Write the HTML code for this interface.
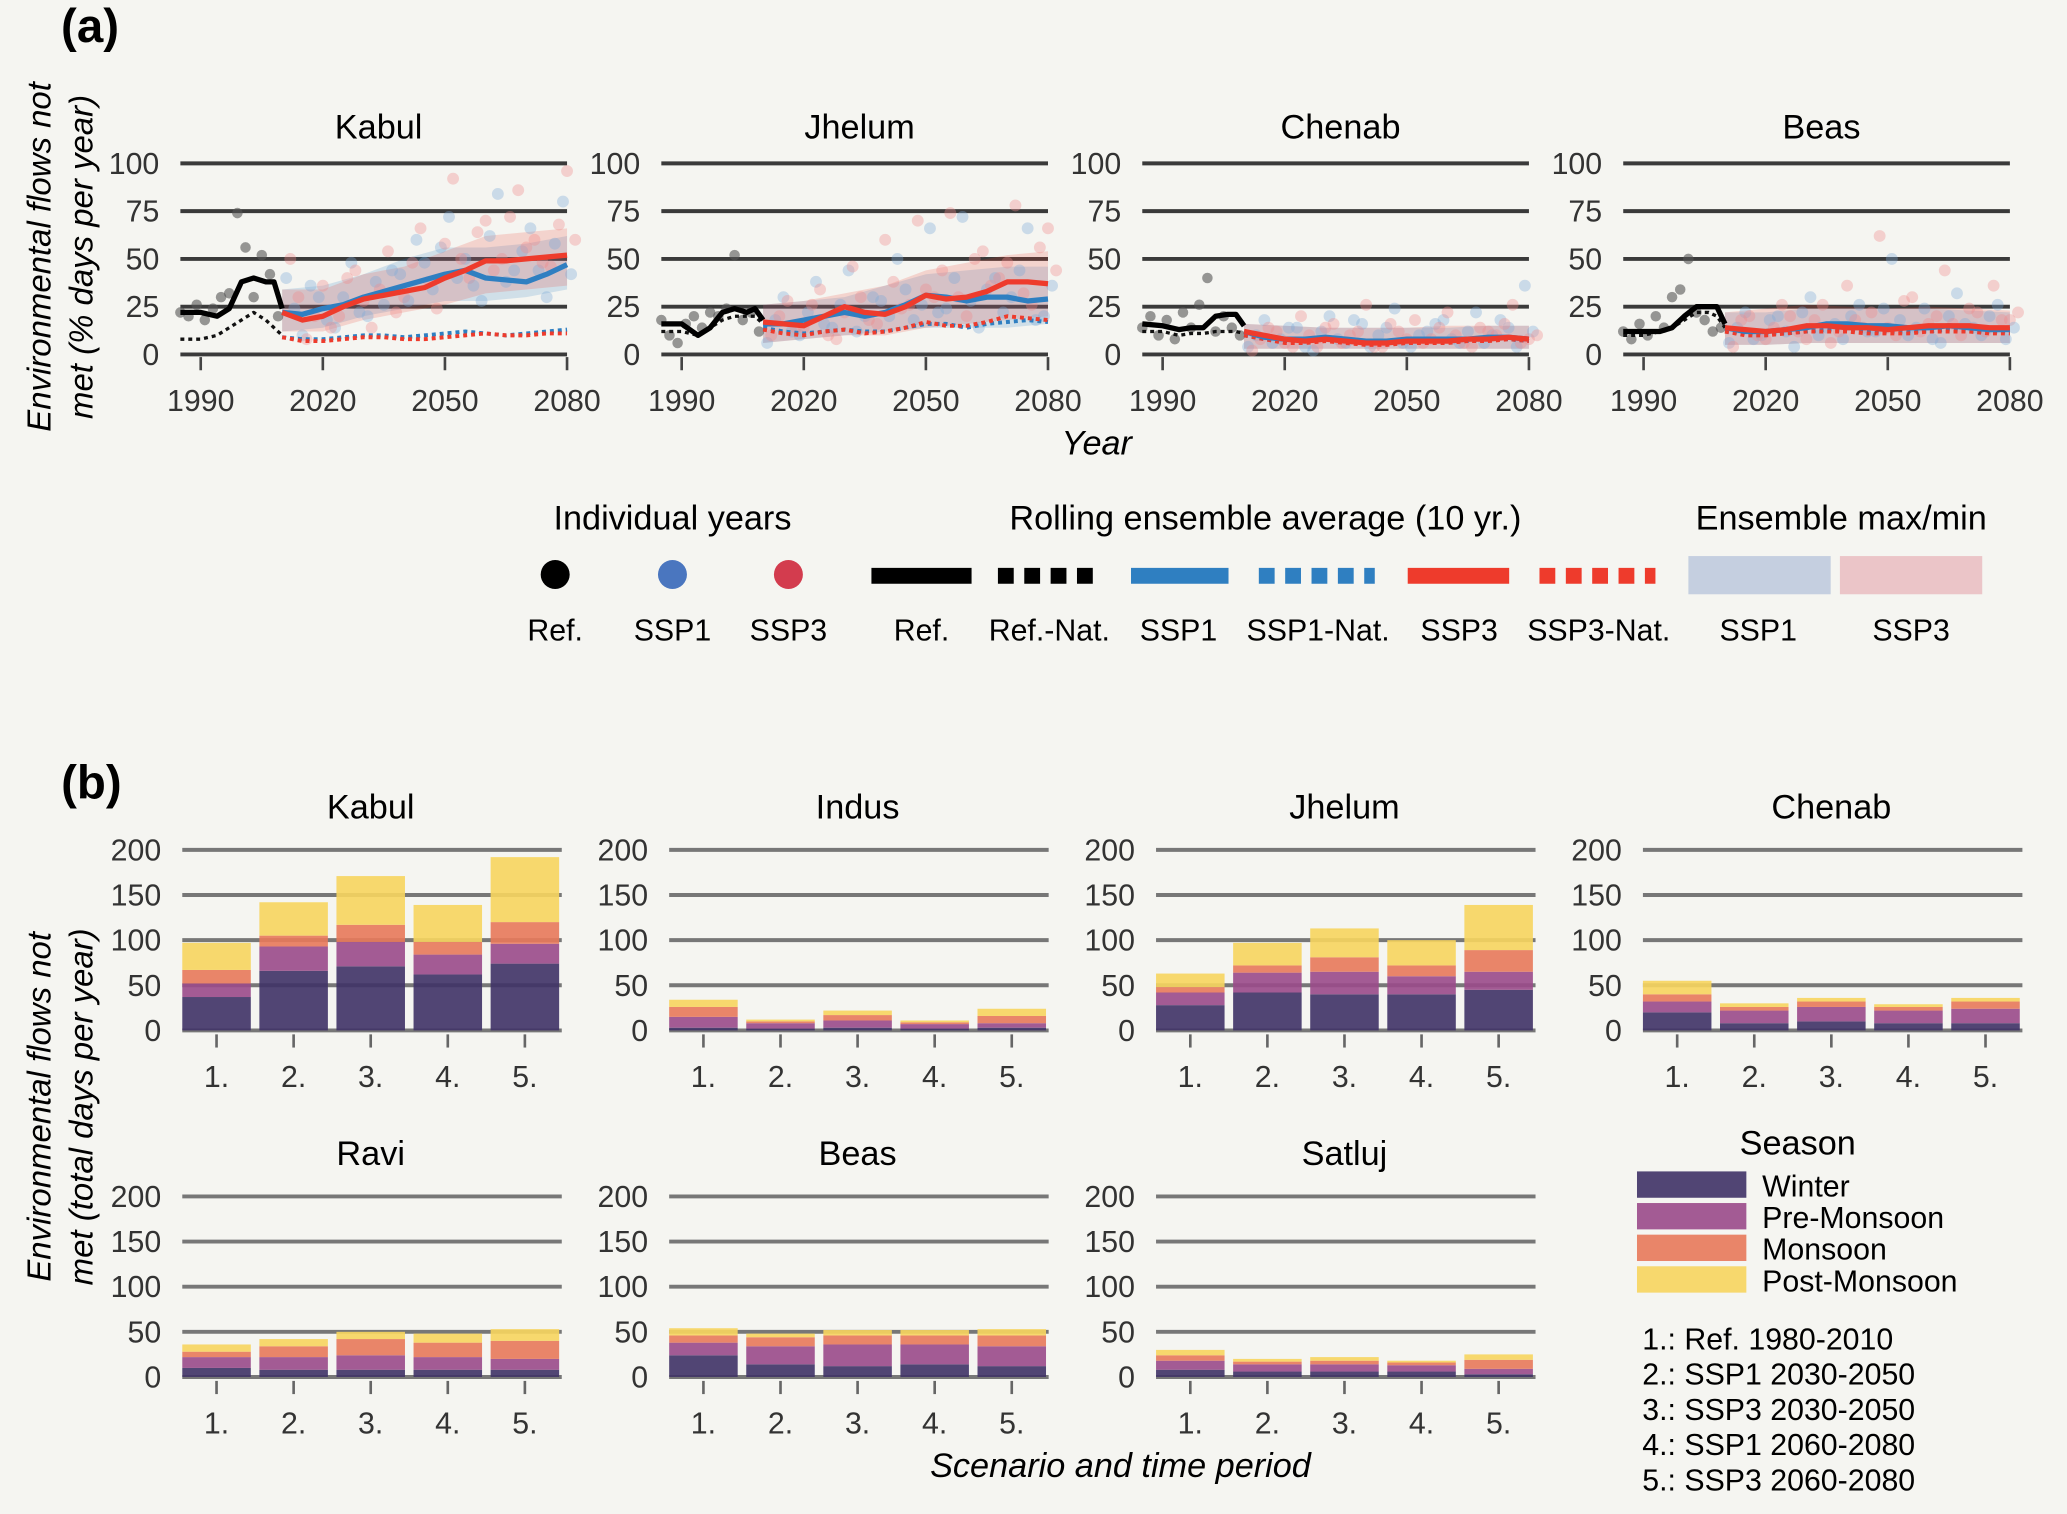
<!DOCTYPE html>
<html><head><meta charset="utf-8">
<style>
html,body{margin:0;padding:0;background:#f5f5f1;}
svg{display:block;font-family:"Liberation Sans Narrow","Liberation Sans",sans-serif;}
</style></head>
<body>
<svg id="fig" width="2067" height="1514" viewBox="0 0 1568 1149" xmlns="http://www.w3.org/2000/svg">
<rect width="1568" height="1149" fill="#f5f5f1"/>
<g id="pa"></g>
<g id="pb"></g>
</svg>
<script>
// ---------- Panel (a) data ----------
const basinsA = ["Kabul","Jhelum","Chenab","Beas"];
const refYears = [1985,1987,1989,1991,1993,1995,1997,1999,2001,2003,2005,2007,2009];
const refDots = [
 [22,20,26,18,24,30,32,74,56,30,52,42,20],
 [18,10,6,16,20,14,22,20,24,52,18,22,12],
 [14,20,10,18,8,22,14,26,40,12,20,14,10],
 [12,8,16,10,20,14,30,34,50,22,18,12,14]
];
const refLineYears = [1985,1990,1994,1997,2000,2003,2006,2008,2010];
const refLine = [
 [22,22,20,24,38,40,38,38,24],
 [16,16,10,14,22,24,22,24,18],
 [16,15,13,14,14,20,21,21,15],
 [12,12,12,14,20,25,25,25,16]
];
const refNat = [
 [8,8,10,14,18,22,18,14,10],
 [12,12,10,14,18,20,20,20,16],
 [12,12,10,11,11,12,12,12,11],
 [10,10,12,14,18,22,22,20,14]
];
const sspYears = [2010,2015,2020,2025,2030,2035,2040,2045,2050,2055,2060,2065,2070,2075,2080];
const ssp1 = [
 [22,21,24,26,30,33,36,39,42,44,40,39,38,42,47],
 [16,16,18,20,22,20,22,26,31,30,28,30,30,28,29],
 [12,9,8,8,9,8,7,7,8,8,8,8,9,9,8],
 [14,12,12,13,14,16,16,15,15,14,14,15,14,13,13]
];
const ssp3 = [
 [22,18,20,25,29,31,33,35,40,44,49,49,50,51,52],
 [17,16,15,20,25,22,21,25,31,29,30,33,38,38,37],
 [12,10,8,7,8,7,6,6,7,7,7,8,8,9,8],
 [14,13,12,13,15,15,14,14,13,14,15,15,15,14,14]
];
const ssp1Nat = [
 [9,8,8,9,10,10,9,10,11,12,11,10,11,12,13],
 [14,12,11,12,13,12,12,14,16,16,14,16,17,18,17],
 [10,8,7,7,8,7,6,6,7,7,7,7,8,8,7],
 [12,11,11,11,12,13,13,12,12,12,12,13,12,12,12]
];
const ssp3Nat = [
 [9,7,7,8,9,9,8,8,9,10,11,10,10,11,11],
 [13,11,10,12,13,11,12,14,17,15,15,17,20,19,18],
 [10,8,6,6,7,6,5,5,6,6,6,7,7,8,7],
 [12,10,10,11,12,12,12,11,11,11,12,12,12,11,11]
];
const bandYears = [2010,2020,2030,2040,2050,2060,2070,2080];
const band1Lo = [[12,14,20,24,28,28,30,34],[6,8,10,12,14,14,14,16],[3,3,3,3,3,3,3,3],[5,5,6,6,6,6,6,6]];
const band1Hi = [[34,36,42,50,56,56,58,62],[26,28,30,36,42,44,46,46],[16,15,14,14,14,14,15,15],[22,22,24,24,24,24,23,22]];
const band3Lo = [[12,12,18,22,26,32,34,36],[6,8,10,10,14,16,18,20],[3,3,3,3,3,3,3,3],[5,5,6,6,6,6,6,6]];
const band3Hi = [[34,34,42,46,54,62,64,66],[26,28,32,36,44,48,52,54],[16,15,14,14,14,15,15,15],[22,24,26,25,24,25,24,23]];
const dotYears = [2011,2015,2019,2023,2027,2031,2035,2039,2043,2047,2051,2055,2059,2063,2067,2071,2075,2079];
const dots1 = [
 [40,10,30,14,48,20,26,42,60,34,72,50,28,84,44,66,30,80],
 [6,30,10,38,14,44,20,28,50,18,66,24,72,14,40,30,66,20],
 [4,18,8,14,2,20,6,16,10,24,4,12,18,6,22,10,14,36],
 [6,22,10,20,4,30,14,8,26,12,50,10,24,6,32,14,20,8]
];
const dots3 = [
 [50,8,36,20,44,14,54,30,66,24,92,40,70,50,86,60,46,96],
 [10,28,14,34,8,46,18,60,24,70,30,74,20,54,40,78,26,66],
 [2,14,6,20,4,16,10,26,4,12,18,8,22,6,14,10,26,8],
 [4,20,8,26,12,18,6,36,14,62,10,30,16,44,10,22,36,18]
];
const dots1b = [
 [24,36,18,30,22,38,44,28,48,56,40,36,62,38,54,44,58,42],
 [18,12,22,16,26,12,30,20,34,26,22,40,28,34,22,44,18,36],
 [10,6,14,4,12,8,18,4,14,6,10,16,8,12,6,18,4,12],
 [14,8,18,12,22,10,16,20,12,24,18,14,8,20,16,10,26,14]
];
const dots3b = [
 [30,20,14,40,28,34,22,48,38,58,50,64,44,72,56,48,68,60],
 [20,14,26,10,22,30,16,38,26,34,44,30,50,36,48,32,56,44],
 [8,12,4,10,14,6,12,4,16,8,6,14,10,4,12,16,6,10],
 [18,10,14,20,8,26,12,18,22,14,28,12,20,16,24,12,18,22]
];
const yTicksA = [0,25,50,75,100];
const xTicksA = [1990,2020,2050,2080];

// ---------- Panel (b) data ----------
const basinsB = ["Kabul","Indus","Jhelum","Chenab","Ravi","Beas","Satluj"];
const scenarios = ["1.","2.","3.","4.","5."];
const seasons = ["Winter","Pre-Monsoon","Monsoon","Post-Monsoon"];
const winter = [[37,66,71,62,74],[3,2,3,2,3],[28,42,40,40,45],[20,8,10,8,8],[10,8,8,8,8],[24,14,12,14,12],[8,6,6,6,3]];
const preMonsoon = [[15,27,27,22,22],[12,6,8,5,5],[14,22,25,20,20],[12,14,16,14,16],[12,14,16,14,12],[14,20,24,22,22],[10,8,8,7,6]];
const monsoon = [[15,12,19,14,24],[11,2,6,2,8],[6,8,16,12,24],[8,4,6,4,8],[6,12,18,16,20],[8,10,10,10,12],[6,3,4,3,10]];
const postMonsoon = [[30,37,54,41,72],[8,2,5,2,8],[15,25,32,28,50],[15,4,4,3,4],[8,8,8,10,13],[8,4,6,6,7],[6,3,4,2,6]];
const yTicksB = [0,50,100,150,200];
const scenarioLegend = ["1.: Ref. 1980-2010","2.: SSP1 2030-2050","3.: SSP3 2030-2050","4.: SSP1 2060-2080","5.: SSP3 2060-2080"];

// ---------- helpers ----------
const NS = "http://www.w3.org/2000/svg";
function mk(tag, attrs, parent, txt){
  const e = document.createElementNS(NS, tag);
  for (const k in attrs) e.setAttribute(k, attrs[k]);
  if (txt !== undefined) e.textContent = txt;
  parent.appendChild(e);
  return e;
}
const pa = document.getElementById('pa');
const pb = document.getElementById('pb');
const BLUE="#2f7fc1", RED="#ee3b2c";

// ---------- draw (a) ----------
let t = mk('text',{x:68,y:32,'font-size':36,'font-weight':'bold','text-anchor':'middle'},pa,'(a)');
 
t = mk('text',{transform:'translate(38,195) rotate(-90)','font-size':25,'font-style':'italic','text-anchor':'middle'},pa,'Environmental flows not');
 
t = mk('text',{transform:'translate(70,195) rotate(-90)','font-size':25,'font-style':'italic','text-anchor':'middle'},pa,'met (% days per year)');
 
t = mk('text',{x:832,y:345,'font-size':26,'font-style':'italic','text-anchor':'middle'},pa,'Year');
 

basinsA.forEach((b,k)=>{
  const off = 365*k;
  const xs = yr => 152 + off + (yr-1990)*278/90;
  const ys = v => 269 - v*1.45;
  const g = mk('g',{},pa);
  
  
  t = mk('text',{x:xs(2035)-4,y:105,'font-size':26,'text-anchor':'middle'},g,b);
   
  yTicksA.forEach(v=>{
    const l = mk('line',{x1:xs(1985),x2:xs(2080),y1:ys(v),y2:ys(v),stroke:'#3a3a3a','stroke-width':3},g);
     
    const tt = mk('text',{x:xs(1985)-16,y:ys(v)+8,'font-size':23,'text-anchor':'end',fill:'#333'},g,String(v));
     
  });
  xTicksA.forEach(yr=>{
    const l = mk('line',{x1:xs(yr),x2:xs(yr),y1:271,y2:281,stroke:'#444','stroke-width':2},g);
     
    const tt = mk('text',{x:xs(yr),y:312,'font-size':23,'text-anchor':'middle',fill:'#333'},g,String(yr));
     
  });
  function band(lo,hi,col,name){
    let d='M'+bandYears.map((yr,i)=>xs(yr)+','+ys(hi[i])).join('L')+'L'+bandYears.slice().reverse().map((yr,i)=>xs(yr)+','+ys(lo[lo.length-1-i])).join('L')+'Z';
    const p = mk('path',{d:d,fill:col,'fill-opacity':0.18},g);
     
  }
  band(band1Lo[k],band1Hi[k],BLUE,'ssp1-band');
  band(band3Lo[k],band3Hi[k],RED,'ssp3-band');
  function dots(arr,dy,col,name){
    dotYears.forEach((yr,i)=>{
      const c = mk('circle',{cx:xs(yr+dy),cy:ys(arr[k][i]),r:4.5,fill:col,'fill-opacity':0.35},g);
       
    });
  }
  dots(dots1,0,'#7aaad6','ssp1-dot');
  dots(dots3,1,'#f08a8a','ssp3-dot');
  dots(dots1b,2,'#7aaad6','ssp1-dot');
  dots(dots3b,3,'#f08a8a','ssp3-dot');
  refYears.forEach((yr,i)=>{
    const c = mk('circle',{cx:xs(yr),cy:ys(refDots[k][i]),r:4,fill:'#555','fill-opacity':0.6},g);
     
  });
  function line(years,vals,col,dash,w,name){
    const p = mk('polyline',{points:years.map((yr,i)=>xs(yr)+','+ys(vals[i])).join(' '),fill:'none',stroke:col,'stroke-width':w,'stroke-dasharray':dash||'none','stroke-linejoin':'round'},g);
     
  }
  line(refLineYears,refNat[k],'#111','3 3',2.5,'ref-nat-line');
  line(sspYears,ssp1Nat[k],BLUE,'3 3',3,'ssp1-nat-line');
  line(sspYears,ssp3Nat[k],RED,'3 3',3,'ssp3-nat-line');
  line(refLineYears,refLine[k],'#000',null,4,'ref-line');
  line(sspYears,ssp1[k],BLUE,null,4,'ssp1-line');
  line(sspYears,ssp3[k],RED,null,4,'ssp3-line');
});

// legend (a)
const lg = mk('g',{},pa);
 
[['Individual years',510],['Rolling ensemble average (10 yr.)',960],['Ensemble max/min',1397]].forEach(h=>{
  const tt = mk('text',{x:h[1],y:402,'font-size':26,'text-anchor':'middle'},lg,h[0]);
   
});
[[421,'#000'],[510,'#4a76bf'],[598,'#d33c4e']].forEach(c=>{
  const e = mk('circle',{cx:c[0],cy:436,r:11,fill:c[1]},lg);
   
});
[[661,737,'#000',null],[757,833,'#000','12 8'],[858,932,BLUE,null],[955,1043,BLUE,'12 8'],[1068,1145,RED,null],[1168,1256,RED,'12 8']].forEach(s=>{
  const e = mk('line',{x1:s[0],x2:s[1],y1:437,y2:437,stroke:s[2],'stroke-width':12,'stroke-dasharray':s[3]||'none'},lg);
   
});
[[1281,'#c5cfe0'],[1396,'#ebc5c8']].forEach(s=>{
  const e = mk('rect',{x:s[0],y:422,width:108,height:29,fill:s[1]},lg);
   
});
[['Ref.',421],['SSP1',510],['SSP3',598],['Ref.',699],['Ref.-Nat.',796],['SSP1',894],['SSP1-Nat.',1000],['SSP3',1107],['SSP3-Nat.',1213],['SSP1',1334],['SSP3',1450]].forEach(l=>{
  const tt = mk('text',{x:l[1],y:486,'font-size':23,'text-anchor':'middle'},lg,l[0]);
   
});

// ---------- draw (b) ----------
t = mk('text',{x:69,y:606,'font-size':36,'font-weight':'bold','text-anchor':'middle'},pb,'(b)');
 
t = mk('text',{transform:'translate(38,840) rotate(-90)','font-size':25,'font-style':'italic','text-anchor':'middle'},pb,'Environmental flows not');
 
t = mk('text',{transform:'translate(70,840) rotate(-90)','font-size':25,'font-style':'italic','text-anchor':'middle'},pb,'met (total days per year)');
 
t = mk('text',{x:850,y:1121,'font-size':26,'font-style':'italic','text-anchor':'middle'},pb,'Scenario and time period');
 

const seasonCols = ['#3f3266','#9a4a8a','#e8795a','#f7d55e'];
const seasonData = [winter,preMonsoon,monsoon,postMonsoon];
basinsB.forEach((b,k)=>{
  const col = k%4, row = Math.floor(k/4);
  const off = 369.5*col;
  const y0 = row===0 ? 782 : 1045;
  const ys = v => y0 - v*137/200;
  const xs = i => 164 + off + i*58.5;
  const g = mk('g',{},pb);
  
  
  t = mk('text',{x:xs(2),y:y0-161,'font-size':26,'text-anchor':'middle'},g,b);
   
  yTicksB.forEach(v=>{
    const l = mk('line',{x1:138+off,x2:426+off,y1:ys(v),y2:ys(v),stroke:'#777','stroke-width':3},g);
     
    const tt = mk('text',{x:122+off,y:ys(v)+8,'font-size':23,'text-anchor':'end',fill:'#333'},g,String(v));
     
  });
  scenarios.forEach((s,i)=>{
    let cum = 0;
    seasonData.forEach((arr,si)=>{
      const v = arr[k][i];
      const r = mk('rect',{x:xs(i)-26,y:ys(cum+v),width:52,height:v*137/200,fill:seasonCols[si],'fill-opacity':0.9},g);
      
      
      cum += v;
    });
    const l = mk('line',{x1:xs(i),x2:xs(i),y1:y0+3,y2:y0+13,stroke:'#666','stroke-width':2},g);
     
    const tt = mk('text',{x:xs(i),y:y0+43,'font-size':23,'text-anchor':'middle',fill:'#333'},g,s);
     
  });
});
// legend (b)
const lb = mk('g',{},pb);
 
t = mk('text',{x:1364,y:876,'font-size':26,'text-anchor':'middle'},lb,'Season');
 
seasons.forEach((s,i)=>{
  const r = mk('rect',{x:1242,y:889+i*24,width:83,height:20,fill:seasonCols[i],'fill-opacity':0.9},lb);
   
  const tt = mk('text',{x:1337,y:908+i*24,'font-size':23},lb,s);
   
});
scenarioLegend.forEach((s,i)=>{
  const tt = mk('text',{x:1246,y:1024+i*26.8,'font-size':23},lb,s);
   
});
</script>
</body></html>
